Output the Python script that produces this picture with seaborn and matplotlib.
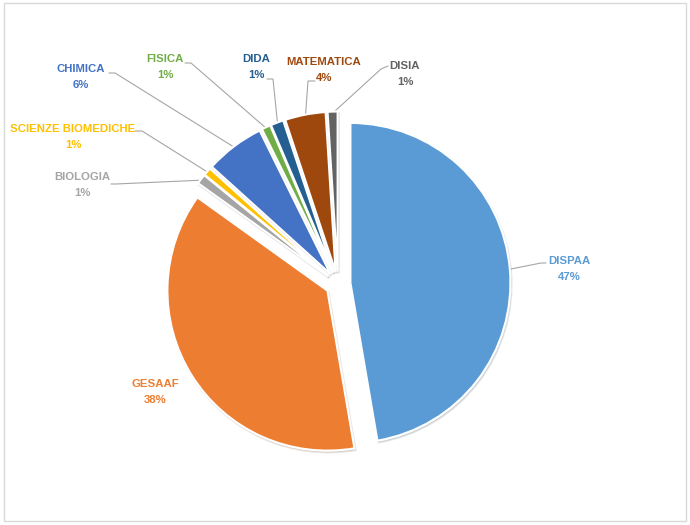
# Exploded pie of share by department

import numpy as np
import matplotlib
matplotlib.use("Agg")
import matplotlib.pyplot as plt
import seaborn as sns
from matplotlib.patches import Rectangle

# Data
departments = ["DISPAA", "GESAAF", "BIOLOGIA", "SCIENZE BIOMEDICHE", "CHIMICA",
               "FISICA", "DIDA", "MATEMATICA", "DISIA"]
shares = [47.3, 37.6, 1.0, 0.8, 6.0, 0.9, 1.3, 4.1, 1.0]
colors = ["#5B9BD5", "#ED7D31", "#A5A5A5", "#FFC000", "#4472C4",
          "#70AD47", "#255E91", "#9E480E", "#636363"]

# Layout (pixels, origin top-left)
W, H = 690, 525
CX, CY, R = 338, 284, 160
label_xy = {"DISPAA": (569, 269), "GESAAF": (155, 392), "BIOLOGIA": (82, 185),
            "SCIENZE BIOMEDICHE": (73, 137), "CHIMICA": (81, 77),
            "FISICA": (165, 67), "DIDA": (256, 67), "MATEMATICA": (324, 70),
            "DISIA": (405, 74)}
# leader start point and elbow
leader = {"DISPAA": [(546, 263), (541, 263)],
          "BIOLOGIA": [(111, 184), (116, 184)],
          "SCIENZE BIOMEDICHE": [(135, 131), (142, 131)],
          "CHIMICA": [(109, 73), (115, 73)],
          "FISICA": [(185, 63), (191, 63)],
          "DIDA": [(267, 79), (273, 79)],
          "MATEMATICA": [(315, 81), (308, 81)],
          "DISIA": [(388, 66), (381, 69)]}

sns.set_theme(style="white")
plt.rcParams["font.family"] = ["Liberation Sans", "DejaVu Sans"]


def to_data(px, py):
    return (px - CX) / R, (CY - py) / R


fig = plt.figure(figsize=(W / 100, H / 100), dpi=100)
ax = fig.add_axes([0, 0, 1, 1])

wedges, _ = ax.pie(shares, colors=colors, startangle=90, counterclock=False,
                   radius=1, center=(0, 0), explode=[0.078] * len(shares),
                   wedgeprops=dict(edgecolor="white", linewidth=1.5),
                   shadow=dict(ox=0.005, oy=-0.008, shade=0.7, alpha=0.12))

# pie() resets the limits, so set them afterwards
ax.set_xlim(-CX / R, (W - CX) / R)
ax.set_ylim(-(H - CY) / R, CY / R)
ax.set_aspect("equal")
ax.axis("off")

for name, val, col, w in zip(departments, shares, colors, wedges):
    pct = f"{round(val / sum(shares) * 100):.0f}%"
    lx, ly = to_data(*label_xy[name])
    ax.text(lx, ly, f"{name}\n{pct}", color=col, fontsize=8.2, fontweight="bold",
            ha="center", va="center", linespacing=1.75)
    if name in leader:
        mid = np.deg2rad((w.theta1 + w.theta2) / 2)
        ex = w.center[0] + w.r * 0.99 * np.cos(mid)
        ey = w.center[1] + w.r * 0.99 * np.sin(mid)
        pts = [to_data(*p) for p in leader[name]] + [(ex, ey)]
        xs, ys = zip(*pts)
        ax.plot(xs, ys, color="#A6A6A6", lw=0.8, zorder=0.5)

# chart border
fig.patches.append(Rectangle((4 / W, (H - 521) / H), 682 / W, 518 / H,
                             transform=fig.transFigure, fill=False,
                             edgecolor="#D9D9D9", lw=1))

plt.savefig("out.png", dpi=100)
